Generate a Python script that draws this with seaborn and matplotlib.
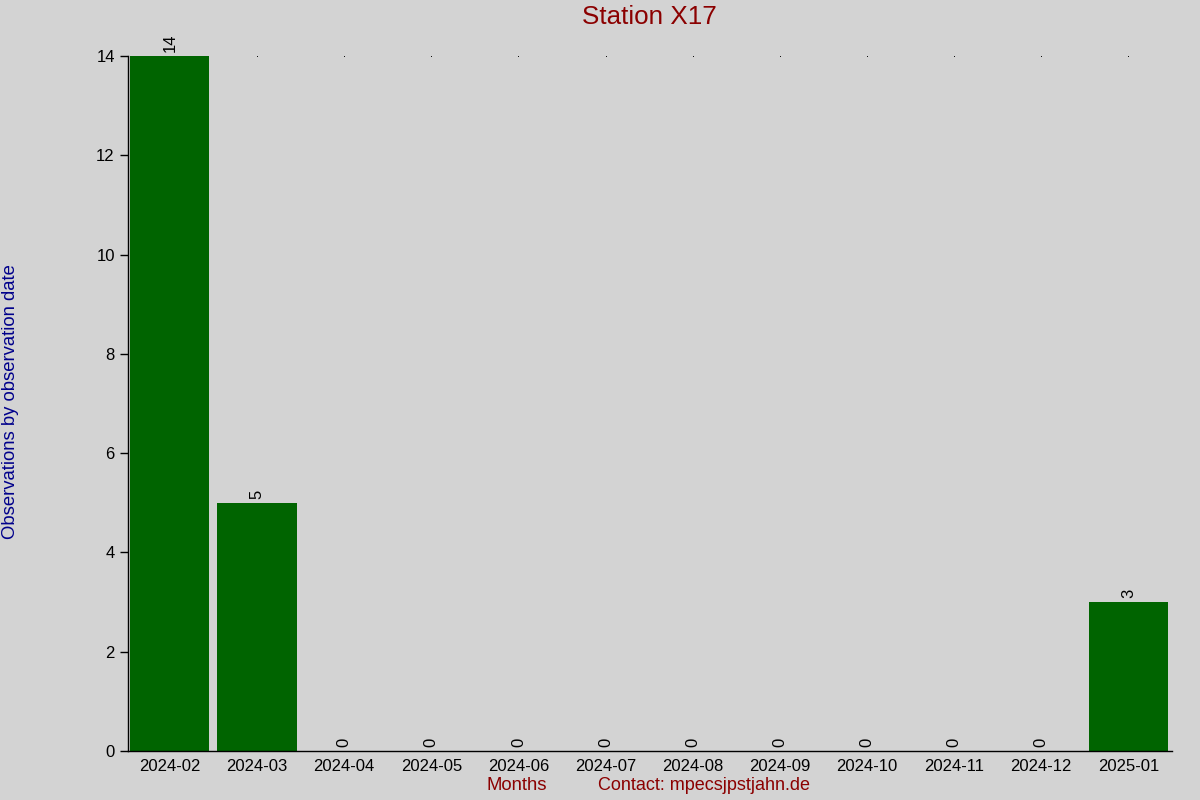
import numpy as np
import pandas as pd
import seaborn as sns
import matplotlib.pyplot as plt

months = ["2024-02", "2024-03", "2024-04", "2024-05", "2024-06", "2024-07",
          "2024-08", "2024-09", "2024-10", "2024-11", "2024-12", "2025-01"]
counts = [14, 5, 0, 0, 0, 0, 0, 0, 0, 0, 0, 3]

title = "Station X17"
ylabel = "Observations by observation date"
xlabel = "Months"
contact = "Contact: mpecsjpstjahn.de"


def main():
    sns.set_style("ticks")
    plt.rcParams['font.family'] = ['Liberation Sans', 'DejaVu Sans']
    for key in ['text.color', 'xtick.color', 'ytick.color',
                'xtick.labelcolor', 'ytick.labelcolor', 'axes.edgecolor']:
        plt.rcParams[key] = 'black'

    bg = '#d3d3d3'
    fig = plt.figure(figsize=(12, 8), dpi=100, facecolor=bg)
    ax = fig.add_axes([128 / 1200, 1 - 751 / 800, 1044 / 1200, 695 / 800])
    ax.set_facecolor(bg)

    df = pd.DataFrame({'month': months, 'count': counts})
    sns.barplot(data=df, x='month', y='count', color='#006400',
                saturation=1, width=0.91, linewidth=0, ax=ax)

    # value labels above each bar
    for i, v in enumerate(counts):
        ax.annotate(str(v), (i, v), xytext=(0, 3), textcoords='offset points',
                    rotation=90, ha='center', va='bottom', fontsize=12)

    # small marks along the top edge
    top = max(counts)
    idx = np.arange(1, len(months))
    ax.plot(idx, np.full(len(idx), top), ls='none', marker='s',
            markersize=0.6, markeredgewidth=0, color='black', clip_on=False)

    ax.set_xlim(-0.48, len(months) - 0.5)
    ax.set_ylim(0, top)
    ax.set_yticks(np.arange(0, top + 1, 2))
    ax.set_xlabel('')
    ax.set_ylabel('')
    ax.tick_params(axis='x', length=0, labelsize=12, pad=6)
    ax.tick_params(axis='y', length=6, width=1, labelsize=12, direction='out')
    for side in ['top', 'right']:
        ax.spines[side].set_visible(False)
    ax.spines['left'].set_linewidth(1)
    ax.spines['bottom'].set_linewidth(1)
    ax.spines['left'].set_bounds(0, top)

    fig.text(649.5 / 1200, 1 - 17 / 800, title, ha='center', va='center',
             fontsize=18.7, color='#8b0000')
    fig.text(11 / 1200, 1 - 402 / 800, ylabel, ha='center', va='center',
             rotation=90, fontsize=13.3, color='#00008b')
    fig.text(517 / 1200, 1 - 786 / 800, xlabel, ha='center', va='center',
             fontsize=13.3, color='#8b0000')
    fig.text(704 / 1200, 1 - 786 / 800, contact, ha='center', va='center',
             fontsize=13, color='#8b0000')

    fig.savefig('out.png', dpi=100, facecolor=bg)
    plt.close(fig)


if __name__ == "__main__":
    main()
